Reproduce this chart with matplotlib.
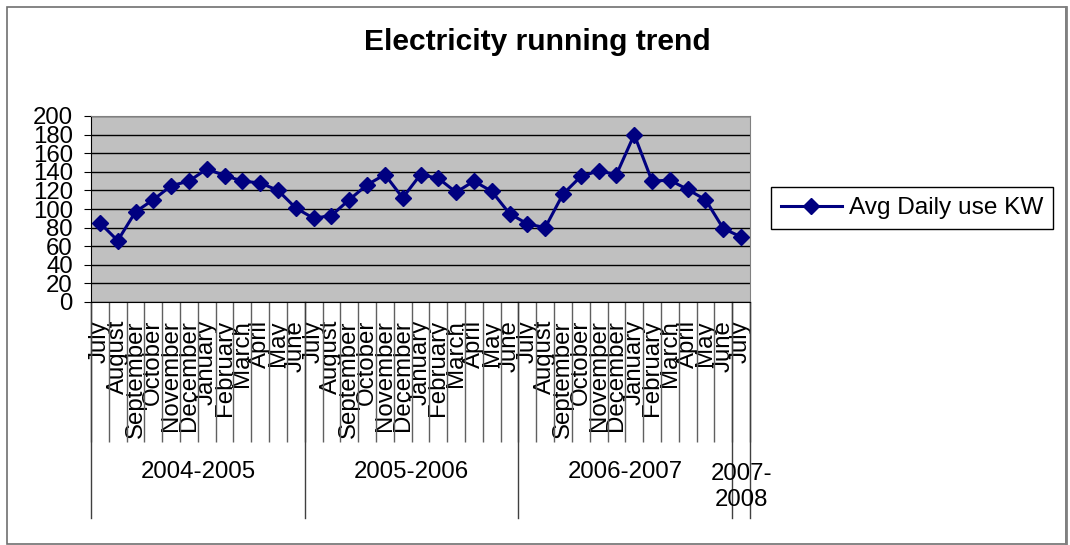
import matplotlib
matplotlib.use('Agg')
import matplotlib.pyplot as plt
import numpy as np
from matplotlib.patches import Rectangle
from matplotlib.transforms import blended_transform_factory

plt.rcParams['font.family'] = ['Liberation Sans', 'DejaVu Sans']

months = ['July', 'August', 'September', 'October', 'November', 'December',
          'January', 'February', 'March', 'April', 'May', 'June'] * 3 + ['July']
values = [85, 66, 97, 110, 125, 130, 143, 136, 130, 128, 120, 101,
          90, 93, 110, 126, 137, 112, 137, 133, 118, 130, 119, 95,
          84, 80, 116, 135, 141, 137, 180, 130, 131, 121, 110, 79, 70]
year_labels = ['2004-2005', '2005-2006', '2006-2007', '2007-\n2008']
year_sizes = [12, 12, 12, 1]
y_ticks = list(range(0, 201, 20))
series_name = 'Avg Daily use KW'
title = 'Electricity running trend'

W, H = 1070, 545
fig = plt.figure(figsize=(W / 100, H / 100), dpi=100)
ax = fig.add_axes([91 / W, (H - 302) / H, (750 - 91) / W, (302 - 116) / H])
ax.set_facecolor('#C0C0C0')

x = np.arange(len(values))
ax.plot(x, values, color='#000080', lw=2.2, marker='D', ms=8.5,
        label=series_name, zorder=3, clip_on=False)
ax.set_xlim(-0.5, len(values) - 0.5)
ax.set_ylim(0, 200)
ax.set_yticks(y_ticks)
ax.yaxis.grid(True, color='black', lw=1)
ax.set_axisbelow(True)

fs = 17.3
ax.tick_params(axis='y', labelsize=fs, length=5, pad=8, direction='out', color='black')
ax.set_xticks(x)
ax.set_xticklabels(months, rotation=90, fontsize=fs, va='top', ha='center')
ax.tick_params(axis='x', which='major', length=0, pad=13)
ax.set_xticks(np.arange(-0.5, len(values), 1), minor=True)
ax.tick_params(axis='x', which='minor', length=140 * 0.72, color='#606060', width=1)

for s in ['top', 'right']:
    ax.spines[s].set_color('#808080')
for s in ['left', 'bottom']:
    ax.spines[s].set_color('black')

trans = blended_transform_factory(ax.transData, ax.transAxes)
axh = 302 - 116
start = 0
bounds = [-0.5]
for lab, n in zip(year_labels, year_sizes):
    center = start + (n - 1) / 2
    ax.text(center, -(487 - 302) / axh if '\n' in lab else -(472 - 302) / axh, lab,
            transform=trans, ha='center', va='center', fontsize=fs,
            linespacing=1.2, multialignment='center')
    start += n
    bounds.append(start - 0.5)
for b in bounds:
    ax.plot([b, b], [0, -(518 - 302) / axh], transform=trans, color='#404040',
            lw=1, clip_on=False)

leg = ax.legend(loc='center left', bbox_to_anchor=(771 / W, 1 - 208 / H),
                bbox_transform=fig.transFigure, frameon=True, fancybox=False,
                edgecolor='black', fontsize=17.6, handlelength=2.5, handletextpad=0.3,
                borderpad=0.4, borderaxespad=0, framealpha=1)
leg.get_frame().set_linewidth(1)

fig.text(537 / W, 1 - 42 / H, title, ha='center', va='center',
         fontsize=21.6, fontweight='bold')

fig.patches.append(Rectangle((7 / W, 1 / H), (1066 - 7) / W, (544 - 7) / H,
                             transform=fig.transFigure, fill=False,
                             edgecolor='#707070', lw=1.2))
fig.lines.append(plt.Line2D([1066 / W, 1066 / W], [1 / H, 538 / H],
                            transform=fig.transFigure, color='#808080', lw=2))

fig.savefig('out.png', dpi=100, facecolor='white')
